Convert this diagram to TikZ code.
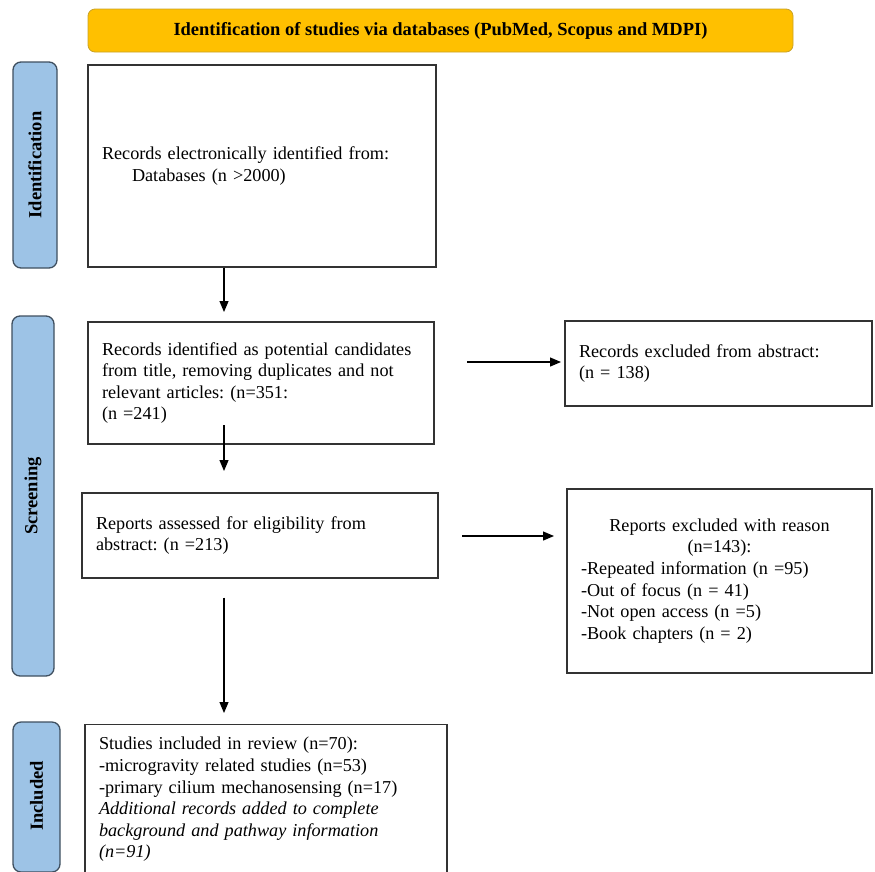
\documentclass[tikz,border=0pt]{standalone}
\usepackage{fontspec}
\setmainfont{Liberation Serif}
\usetikzlibrary{arrows.meta}
\definecolor{hdrfill}{HTML}{FFC000}
\definecolor{hdrline}{HTML}{C9A227}
\definecolor{sidefill}{HTML}{9DC3E6}
\definecolor{sideline}{HTML}{3F4F5F}
\definecolor{boxline}{HTML}{333333}
\begin{document}
\frenchspacing
\begin{tikzpicture}[x=1pt,y=-1pt,
  every node/.style={font=\fontsize{18.2}{21.6}\selectfont},
  hdr/.style={draw=hdrline,fill=hdrfill,rounded corners=7pt,line width=0.8pt,
    font=\fontsize{18.5}{20}\selectfont\bfseries},
  side/.style={draw=sideline,fill=sidefill,rounded corners=8pt,line width=1.3pt},
  sidetext/.style={rotate=90,font=\fontsize{18.5}{20}\selectfont\bfseries},
  flowbox/.style={draw=boxline,line width=1.2pt,align=left,inner xsep=14pt,inner ysep=0pt},
  arr/.style={line width=1.2pt,-{Triangle[length=11pt,width=9pt]}}]
\useasboundingbox (0,0) rectangle (875,871);
\clip (0,0) rectangle (875,871);

% header
\node[hdr,minimum width=705pt,minimum height=43pt] (hdr) at (440.5,30.5)
  {Identification of studies via databases (PubMed, Scopus and MDPI)};

% side labels
\node[side,minimum width=44pt,minimum height=206pt] (sidA) at (35,165) {};
\node[sidetext] (sidAt) at (sidA.center) {Identification};
\node[side,minimum width=42pt,minimum height=360pt] (sidB) at (33,496) {};
\node[sidetext] (sidBt) at (sidB.center) {Screening};
\node[side,minimum width=47pt,minimum height=150pt] (sidC) at (36.5,797) {};
\node[sidetext] (sidCt) at (36.5,796) {Included};

% main boxes
\node[flowbox,text width=320pt,minimum height=202pt] (b1) at (262,166)
  {Records electronically identified from:\\\hspace*{30pt}Databases (n >2000)};
\node[flowbox,text width=318pt,minimum height=122pt] (b2) at (261,383)
  {Records identified as potential candidates\\from title, removing duplicates and not\\relevant articles: (n=351:\\(n =241)};
\node[flowbox,text width=328pt,minimum height=85pt] (b3) at (260,535.5)
  {Reports assessed for eligibility from\\abstract: (n =213)};
\node[flowbox,text width=334pt,minimum height=150pt,anchor=north] (b4) at (266,724)
  {Studies included in review (n=70):\\-microgravity related studies (n=53)\\-primary cilium mechanosensing (n=17)\\\textit{Additional records added to complete}\\\textit{background and pathway information}\\\textit{(n=91)}};

% right boxes
\node[flowbox,text width=279pt,minimum height=85pt] (r1) at (718.5,363.5)
  {Records excluded from abstract:\\(n = 138)};
\node[flowbox,text width=277pt,minimum height=184pt] (r2) at (719.5,581)
  {\makebox[\linewidth][c]{Reports excluded with reason}\\\makebox[\linewidth][c]{(n=143):}\\-Repeated information (n =95)\\-Out of focus (n = 41)\\-Not open access (n =5)\\-Book chapters (n = 2)};

% connector end points
\coordinate (e1) at (224,312);
\coordinate (s2) at (224,425);
\coordinate (e2) at (224,471);
\coordinate (e3) at (224,713);
\coordinate (sr1) at (467,362);
\coordinate (er1) at (561,362);
\coordinate (sr2) at (462,536);
\coordinate (er2) at (554,536);

\draw[arr] (b1.south -| e1) -- (e1);
\draw[arr] (s2) -- (e2);
\draw[arr] (b3.south -| e3) ++(0,19) -- (e3);
\draw[arr] (sr1) -- (er1);
\draw[arr] (sr2) -- (er2);
\end{tikzpicture}
\end{document}
